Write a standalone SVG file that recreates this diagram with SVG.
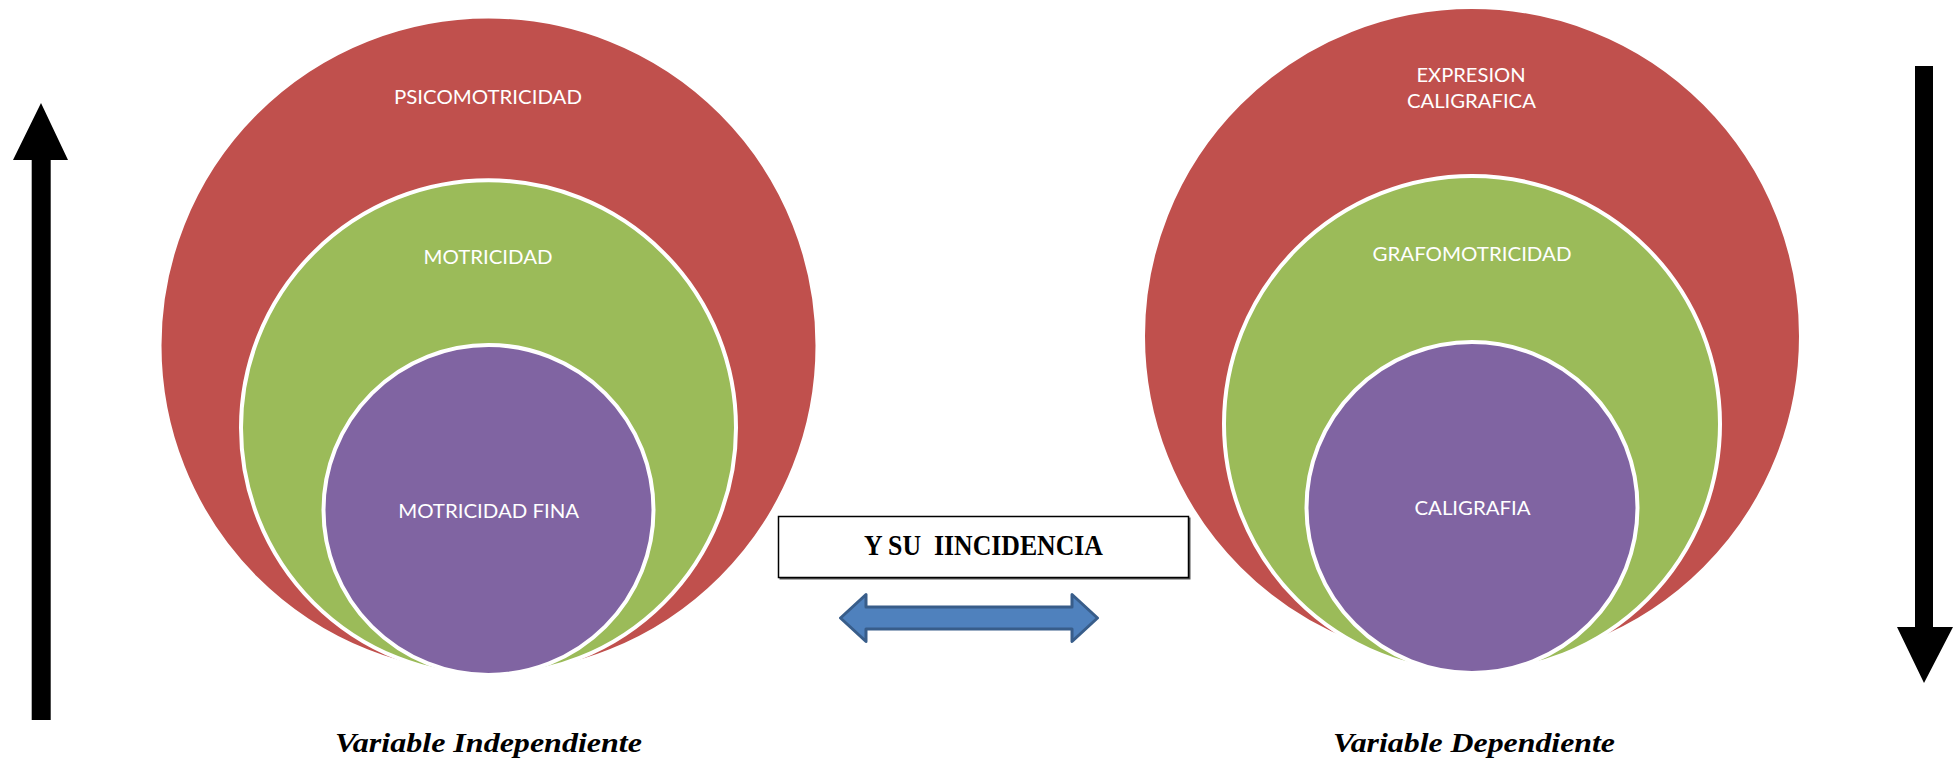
<svg xmlns="http://www.w3.org/2000/svg" width="1959" height="769" viewBox="0 0 1959 769">
<style>
.red{fill:#C0504D;stroke:#FFFFFF;stroke-width:2}
.green{fill:#9BBB59;stroke:#FFFFFF;stroke-width:4}
.purple{fill:#8064A2;stroke:#FFFFFF;stroke-width:4}
.lbl{font-family:Lato,"Noto Sans","Liberation Sans",sans-serif;font-size:19.5px;fill:#FFFFFF;text-anchor:middle}
.var{font-family:"Liberation Serif","Times New Roman",serif;font-size:27px;font-weight:bold;font-style:italic;fill:#000000;text-anchor:middle}
.box{font-family:"Liberation Serif","Times New Roman",serif;font-size:29px;font-weight:bold;fill:#000000;text-anchor:middle;white-space:pre}
.blk{fill:#000000}
</style>
<rect width="1959" height="769" fill="#FFFFFF"/>
<g id="left-nest">
  <g id="psicomotricidad">
    <circle class="red" cx="488.5" cy="345.5" r="328"/>
    <text class="lbl" x="488" y="104" textLength="188" lengthAdjust="spacingAndGlyphs">PSICOMOTRICIDAD</text>
  </g>
  <g id="motricidad">
    <circle class="green" cx="488.5" cy="427.8" r="247.5"/>
    <text class="lbl" x="488" y="264" textLength="129" lengthAdjust="spacingAndGlyphs">MOTRICIDAD</text>
  </g>
  <g id="motricidad-fina">
    <circle class="purple" cx="488.5" cy="510" r="165"/>
    <text class="lbl" x="488.7" y="518" textLength="181" lengthAdjust="spacingAndGlyphs">MOTRICIDAD FINA</text>
  </g>
</g>
<g id="right-nest">
  <g id="expresion-caligrafica">
    <circle class="red" cx="1472" cy="336" r="328"/>
    <text class="lbl" x="1471" y="82" textLength="109" lengthAdjust="spacingAndGlyphs">EXPRESION</text>
    <text class="lbl" x="1471.4" y="107.5" textLength="129" lengthAdjust="spacingAndGlyphs">CALIGRAFICA</text>
  </g>
  <g id="grafomotricidad">
    <circle class="green" cx="1472" cy="424" r="248"/>
    <text class="lbl" x="1472" y="260.5" textLength="199" lengthAdjust="spacingAndGlyphs">GRAFOMOTRICIDAD</text>
  </g>
  <g id="caligrafia">
    <circle class="purple" cx="1472" cy="507.5" r="165.5"/>
    <text class="lbl" x="1472.5" y="515" textLength="116" lengthAdjust="spacingAndGlyphs">CALIGRAFIA</text>
  </g>
</g>
<g id="incidencia">
  <rect x="779.5" y="517.5" width="411" height="62" fill="#555555"/>
  <rect x="778.5" y="516.5" width="410" height="61" fill="#FFFFFF" stroke="#000000" stroke-width="1.5"/>
  <text class="box" x="983.5" y="555" textLength="239" lengthAdjust="spacingAndGlyphs">Y SU  IINCIDENCIA</text>
</g>
<g id="connectors">
  <polygon points="840.5,618 866,594.5 866,607 1072,607 1072,594.5 1097.5,618 1072,641.5 1072,629 866,629 866,641.5" fill="#4F81BD" stroke="#385D8A" stroke-width="3" stroke-linejoin="round"/>
  <polygon class="blk" points="41,103 68,160 50.7,160 50.7,720 31.7,720 31.7,160 13,160"/>
  <polygon class="blk" points="1915,66 1933,66 1933,627 1953,627 1924,683 1897,627 1915,627"/>
</g>
<g id="variables">
  <text class="var" x="488.5" y="752" textLength="307" lengthAdjust="spacingAndGlyphs">Variable Independiente</text>
  <text class="var" x="1474" y="752" textLength="282" lengthAdjust="spacingAndGlyphs">Variable Dependiente</text>
</g>
</svg>
